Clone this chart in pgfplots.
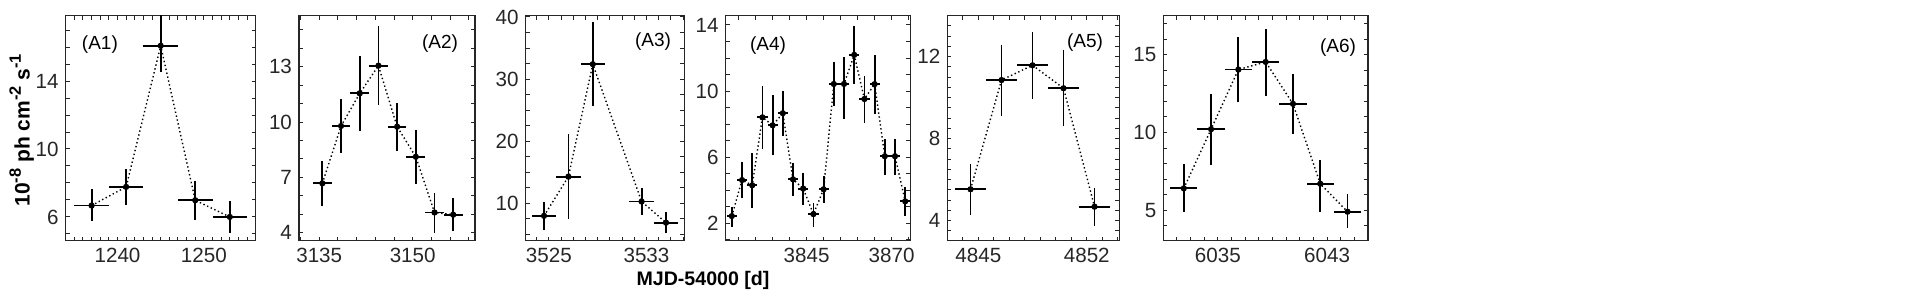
\documentclass[border=0pt]{standalone}
\usepackage{pgfplots}
\pgfplotsset{compat=1.18}
\usepackage{fontspec}
\setmainfont{Liberation Sans}
\definecolor{axgray}{RGB}{38,38,38}
\newcommand{\sups}[1]{\raisebox{0.42em}{\fontsize{8.2}{9}\selectfont #1}}
\tikzset{plab/.style={font=\fontsize{9.5}{11}\selectfont, text=black}}
\pgfplotsset{
  panel/.style={
    scale only axis, height=112.5pt, anchor=south west,
    axis line style={axgray, line width=0.6pt},
    every tick/.style={axgray, line width=0.5pt},
    major tick length=2pt, minor tick length=2pt,
    tick align=inside, xtick pos=both, ytick pos=both,
    tick label style={font=\fontsize{10.3}{12}\selectfont, text=axgray},
    /pgf/number format/assume math mode=true,
    /pgf/number format/set thousands separator={},
    scaled ticks=false, clip=true,
  },
  lc/.style={black, mark=*, mark size=1.2pt, line width=0.7pt,
    dash pattern=on 0.7pt off 1.3pt, mark options={solid},
    error bars/.cd, x dir=both, x explicit, y dir=both, y explicit,
    error mark=none, error bar style={solid, line width=0.9pt}},
}
\begin{document}
\begin{tikzpicture}
\path[use as bounding box] (0,0) rectangle (963pt,152pt);

% A1
\begin{axis}[panel, at={(32.85pt,31.65pt)}, width=95pt,
  xmin=1234, xmax=1256, ymin=4.6, ymax=17.85,
  xtick={1240,1250}, minor xtick={1235,...,1256},
  ytick={6,10,14}, minor ytick={5,...,17},
  ylabel={10\sups{-8} ph cm\sups{-2} s\sups{-1}},
  ylabel style={at={(axis description cs:-0.232,0.49)}, anchor=center, font=\fontsize{10.5}{12}\selectfont\bfseries}]
\addplot+[lc] coordinates {
 (1237,6.67) += (2,0.96) -= (2,0.91)
 (1241,7.77) += (2,1.04) -= (2,1.06)
 (1245,16.08) += (2,1.9) -= (2,1.53)
 (1249,6.98) += (2,1.12) -= (2,1.16)
 (1253,6.00) += (2,0.92) -= (2,0.92)
};
\node[plab] at (axis description cs:0.18,0.872) {(A1)};
\end{axis}

% A2
\begin{axis}[panel, at={(149.5pt,31.65pt)}, width=88pt,
  xmin=3131.75, xmax=3160, ymin=3.57, ymax=15.77,
  xtick={3135,3150}, minor xtick={3132,3135,...,3159},
  ytick={4,7,10,13}, minor ytick={4,...,15}]
\addplot+[lc] coordinates {
 (3135.5,6.68) += (1.5,1.21) -= (1.5,1.22)
 (3138.5,9.79) += (1.5,1.46) -= (1.5,1.49)
 (3141.5,11.56) += (1.5,2.04) -= (1.5,2.04)
 (3144.5,13.06) += (1.5,2.15) -= (1.5,2.13)
 (3147.5,9.75) += (1.5,1.27) -= (1.5,1.30)
 (3150.5,8.12) += (1.5,1.45) -= (1.5,1.50)
 (3153.5,5.10) += (1.5,1.03) -= (1.5,1.10)
 (3156.5,4.98) += (1.5,0.90) -= (1.5,0.91)
};
\node[plab, anchor=east] at (axis description cs:0.943,0.874) {(A2)};
\end{axis}

% A3
\begin{axis}[panel, at={(262.85pt,31.65pt)}, width=79.3pt,
  xmin=3523.1, xmax=3536.1, ymin=4, ymax=40.2,
  xtick={3525,3533}, minor xtick={3524,...,3536},
  ytick={10,20,30,40}, minor ytick={5,7.5,...,40},
  xlabel={MJD-54000 [d]},
  xlabel style={at={(axis description cs:1.118,-0.175)}, anchor=center, font=\fontsize{9.8}{11}\selectfont\bfseries}]
\addplot+[lc] coordinates {
 (3524.6,8.0) += (1,2.2) -= (1,2.3)
 (3526.6,14.3) += (1,6.8) -= (1,6.8)
 (3528.6,32.4) += (1,6.8) -= (1,6.7)
 (3532.6,10.3) += (1,2.2) -= (1,2.2)
 (3534.6,6.9) += (1,1.7) -= (1,1.7)
};
\node[plab, anchor=east] at (axis description cs:0.96,0.884) {(A3)};
\end{axis}

% A4
\begin{axis}[panel, at={(362.85pt,31.65pt)}, width=92.3pt,
  xmin=3821.2, xmax=3875.5, ymin=0.95, ymax=14.56,
  xtick={3845,3870}, minor xtick={3825,3830,...,3875},
  ytick={2,6,10,14}, minor ytick={1,...,14}]
\addplot+[lc] coordinates {
 (3823,2.44) += (1.5,0.56) -= (1.5,0.64)
 (3826,4.62) += (1.5,1.07) -= (1.5,1.07)
 (3829,4.30) += (1.5,1.93) -= (1.5,1.39)
 (3832,8.41) += (1.5,1.89) -= (1.5,1.91)
 (3835,7.93) += (1.5,1.81) -= (1.5,1.79)
 (3838,8.66) += (1.5,1.34) -= (1.5,1.36)
 (3841,4.66) += (1.5,0.97) -= (1.5,1.01)
 (3844,4.10) += (1.5,0.92) -= (1.5,0.99)
 (3847,2.56) += (1.5,0.69) -= (1.5,0.76)
 (3850,4.06) += (1.5,0.79) -= (1.5,0.85)
 (3853,10.43) += (1.5,1.34) -= (1.5,1.34)
 (3856,10.43) += (1.5,1.64) -= (1.5,2.13)
 (3859,12.19) += (1.5,1.77) -= (1.5,1.79)
 (3862,9.52) += (1.5,1.39) -= (1.5,1.47)
 (3865,10.42) += (1.5,1.79) -= (1.5,1.78)
 (3868,6.06) += (1.5,1.05) -= (1.5,1.11)
 (3871,6.06) += (1.5,1.05) -= (1.5,1.11)
 (3874,3.33) += (1.5,0.89) -= (1.5,0.89)
};
\node[plab, anchor=west] at (axis description cs:0.094,0.865) {(A4)};
\end{axis}

% A5
\begin{axis}[panel, at={(473.65pt,31.65pt)}, width=86pt,
  xmin=4843, xmax=4854.1, ymin=3.02, ymax=14.0,
  xtick={4845,4852}, minor xtick={4844,...,4854},
  ytick={4,8,12}, minor ytick={3.5,4,...,14}]
\addplot+[lc] coordinates {
 (4844.5,5.53) += (1,1.24) -= (1,1.25)
 (4846.5,10.86) += (1,1.71) -= (1,1.74)
 (4848.5,11.58) += (1,1.61) -= (1,1.65)
 (4850.5,10.46) += (1,1.85) -= (1,1.86)
 (4852.5,4.68) += (1,0.93) -= (1,0.92)
};
\node[plab, anchor=east] at (axis description cs:0.946,0.881) {(A5)};
\end{axis}

% A6
\begin{axis}[panel, at={(581.65pt,31.65pt)}, width=102.35pt,
  xmin=6031, xmax=6046, ymin=3.05, ymax=17.5,
  xtick={6035,6043}, minor xtick={6032,...,6045},
  ytick={5,10,15}, minor ytick={4,...,17}]
\addplot+[lc] coordinates {
 (6032.5,6.41) += (1,1.56) -= (1,1.54)
 (6034.5,10.21) += (1,2.29) -= (1,2.30)
 (6036.5,14.04) += (1,2.07) -= (1,2.10)
 (6038.5,14.53) += (1,2.14) -= (1,2.18)
 (6040.5,11.84) += (1,1.94) -= (1,1.95)
 (6042.5,6.71) += (1,1.54) -= (1,1.84)
 (6044.5,4.91) += (1,1.12) -= (1,1.06)
};
\node[plab, anchor=east] at (axis description cs:0.976,0.859) {(A6)};
\end{axis}
\end{tikzpicture}
\end{document}
